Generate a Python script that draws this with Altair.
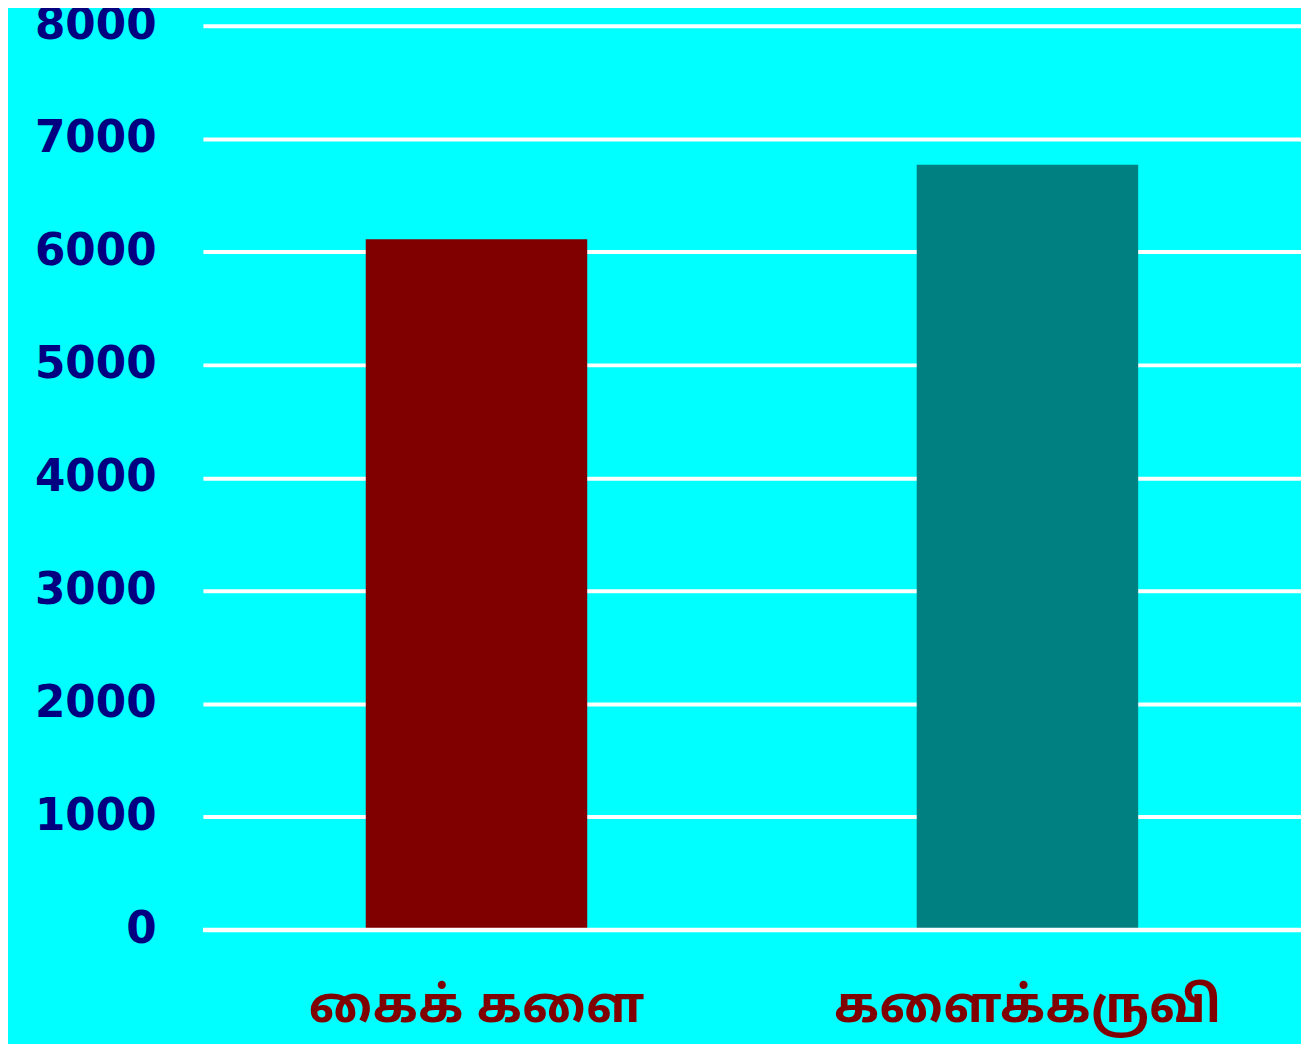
import altair as alt
import pandas as pd

categories = ["கைக் களை", "களைக்கருவி"]
values = [6110, 6770]
bar_colors = ["#800000", "#008080"]
y_ticks = [0, 1000, 2000, 3000, 4000, 5000, 6000, 7000, 8000]

df = pd.DataFrame({"cat": categories, "value": values, "color": bar_colors})

x = alt.X(
    "cat:N",
    sort=categories,
    scale=alt.Scale(paddingInner=0.598, paddingOuter=0.2955),
    axis=alt.Axis(
        title=None,
        labelAngle=0,
        labelFont="Noto Sans Tamil, Latha, Noto Sans, DejaVu Sans, sans-serif",
        labelFontSize=50,
        labelFontWeight="bold",
        labelColor="#800000",
        labelPadding=52,
        labelLimit=800,
        ticks=False,
        domain=False,
        grid=False,
    ),
)
y = alt.Y(
    "value:Q",
    scale=alt.Scale(domain=[0, 8000], nice=False),
    axis=alt.Axis(
        values=y_ticks,
        format="d",
        title=None,
        grid=True,
        gridColor="white",
        gridWidth=4,
        gridOpacity=1,
        labelFont="DejaVu Sans",
        labelFontSize=44,
        labelFontWeight="bold",
        labelColor="#000080",
        labelPadding=47,
        ticks=False,
        domain=False,
    ),
)

bars = alt.Chart(df).mark_bar().encode(
    x=x, y=y, color=alt.Color("color:N", scale=None)
)
zero = alt.Chart(pd.DataFrame({"v": [0]})).mark_rule(
    color="white", strokeWidth=4
).encode(y="v:Q")

chart = (
    alt.layer(bars, zero)
    .properties(
        width=1104,
        height=909,
        background="#00FFFF",
        padding={"left": 196, "top": 15, "right": 0, "bottom": 112},
        autosize="none",
    )
    .configure_view(stroke=None, fill="#00FFFF")
)

chart.save("out.html", embed_options={"renderer": "svg", "actions": False})
